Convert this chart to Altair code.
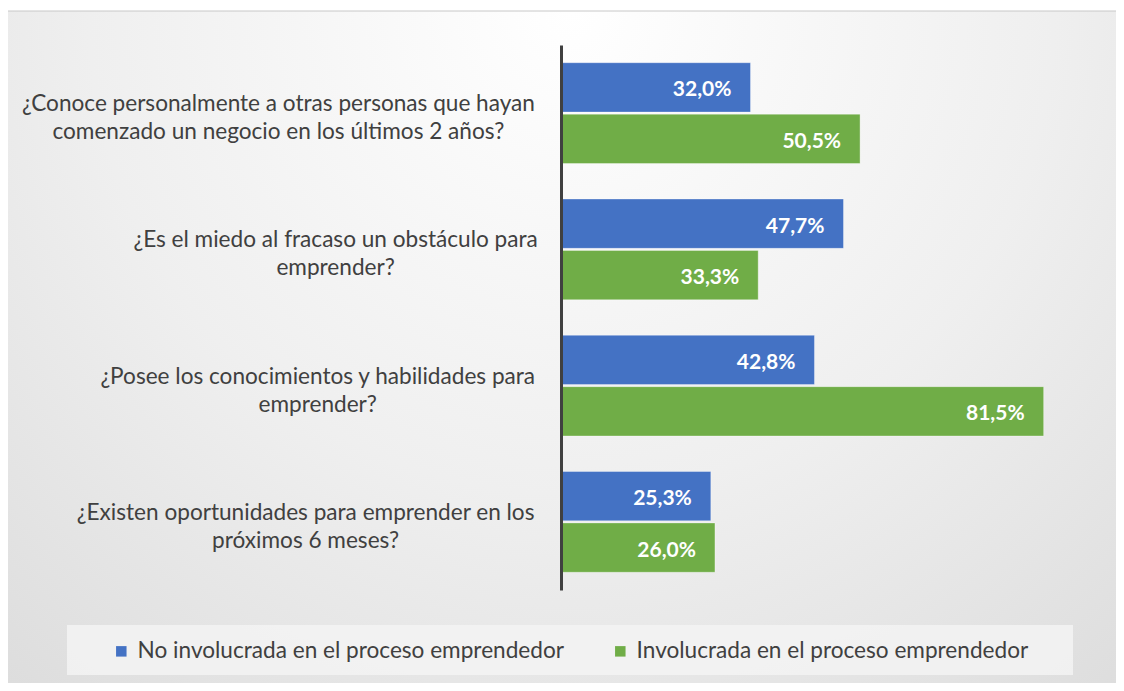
import altair as alt
import pandas as pd

# ---- data ----
categories = [
    "¿Conoce personalmente a otras personas que hayan\ncomenzado un negocio en los últimos 2 años?",
    "¿Es el miedo al fracaso  un obstáculo para\nemprender?",
    "¿Posee los conocimientos y habilidades para\nemprender?",
    "¿Existen oportunidades para emprender en los\npróximos 6 meses?",
]
series = ["No involucrada en el proceso emprendedor", "Involucrada en el proceso emprendedor"]
no_involucrada = [32.0, 47.7, 42.8, 25.3]
involucrada = [50.5, 33.3, 81.5, 26.0]
colors = ["#4472C4", "#70AD47"]

rows = []
for c, a, b in zip(categories, no_involucrada, involucrada):
    for s, v in ((series[0], a), (series[1], b)):
        rows.append({"cat": c, "series": s, "value": v,
                     "label": f"{v:.1f}".replace(".", ",") + "%"})
df = pd.DataFrame(rows)

# approximate Lato Regular advance widths (em) to centre the two-line labels
W = {' ': 0.193, 'a': 0.48, 'b': 0.558, 'c': 0.463, 'd': 0.558, 'e': 0.522, 'f': 0.335,
     'g': 0.515, 'h': 0.558, 'i': 0.238, 'j': 0.24, 'k': 0.52, 'l': 0.238, 'm': 0.836,
     'n': 0.558, 'o': 0.565, 'p': 0.558, 'q': 0.558, 'r': 0.373, 's': 0.406, 't': 0.355,
     'u': 0.558, 'v': 0.51, 'w': 0.78, 'x': 0.5, 'y': 0.51, 'z': 0.46, '?': 0.42,
     '¿': 0.42, 'C': 0.68, 'E': 0.56, 'P': 0.6, 'á': 0.48, 'ó': 0.565, 'ú': 0.558,
     'ñ': 0.558}
FS = 22.6
GAP = 26


def text_w(s):
    s = " ".join(s.split())
    return sum(W.get(ch, 0.55) for ch in s) * FS * 1.024


lab_df = pd.DataFrame({"cat": categories})
lab_df["cx"] = [-GAP - max(text_w(l) for l in c.split("\n")) / 2 for c in categories]

PLOT_W, PLOT_H = 533, 545
PAD = {"left": 553, "top": 37, "right": 22, "bottom": 93}

y_axis = alt.Axis(labels=False, ticks=False, domain=True, domainColor="#404040",
                  domainWidth=3, grid=False, title=None, zindex=2)
y_enc = alt.Y("cat:N", sort=categories,
              scale=alt.Scale(paddingInner=0.26, paddingOuter=0.13),
              axis=y_axis, title=None)

gradient = {
    "gradient": "radial",
    "x1": 0.5, "y1": 0.2, "r1": 0.0,
    "x2": 0.5, "y2": 0.2, "r2": 0.95,
    "stops": [
        {"offset": 0.0, "color": "#ffffff"},
        {"offset": 0.45, "color": "#efefef"},
        {"offset": 1.0, "color": "#d4d4d4"},
    ],
}

one = pd.DataFrame({"k": [0]})
bg = alt.Chart(one).mark_rect(fill=gradient, stroke="#c8c8c8", strokeWidth=1).encode(
    x=alt.value(-554), x2=alt.value(575), y=alt.value(-34), y2=alt.value(645)
)
legend_box = alt.Chart(one).mark_rect(fill="#f3f3f3", opacity=0.85).encode(
    x=alt.value(-494), x2=alt.value(512), y=alt.value(580), y2=alt.value(630)
)

x_scale = alt.Scale(domain=[0, 90], nice=False, zero=True)
yoff = alt.YOffset("series:N", sort=series, scale=alt.Scale(paddingInner=0.04))

bars = alt.Chart(df).mark_bar(stroke="#ffffff", strokeWidth=0.6, strokeOpacity=0.6).encode(
    x=alt.X("value:Q", scale=x_scale, axis=None),
    y=y_enc,
    yOffset=yoff,
    color=alt.Color(
        "series:N", sort=series,
        scale=alt.Scale(domain=series, range=colors),
        legend=alt.Legend(
            orient="none", legendX=-451, legendY=595, direction="horizontal",
            title=None, symbolType="square", symbolSize=110, symbolStrokeWidth=0,
            labelFont="Lato", labelFontSize=FS, labelColor="#404040",
            labelLimit=0, labelOffset=5, columnPadding=45,
        ),
    ),
)

bar_labels = alt.Chart(df).mark_text(
    align="right", baseline="middle", dx=-19, dy=3, color="white",
    font="Lato", fontWeight="bold", fontSize=21,
).encode(
    x=alt.X("value:Q", scale=x_scale, axis=None),
    y=y_enc,
    yOffset=yoff,
    text="label:N",
)

cat_labels = alt.Chart(lab_df).mark_text(
    align="center", baseline="middle", lineBreak="\n", lineHeight=28,
    font="Lato", fontSize=FS, color="#404040", dy=-9,
).encode(
    x=alt.X("cx:Q", scale=None, axis=None),
    y=y_enc,
    text="cat:N",
)

chart = alt.layer(bg, legend_box, bars, bar_labels, cat_labels).resolve_scale(
    x="independent"
).properties(
    width=PLOT_W, height=PLOT_H, padding=PAD,
    autosize=alt.AutoSizeParams(type="none"),
    background="#ffffff",
).configure_view(stroke=None)

chart.save("out.html", embed_options={"renderer": "svg", "actions": False})
